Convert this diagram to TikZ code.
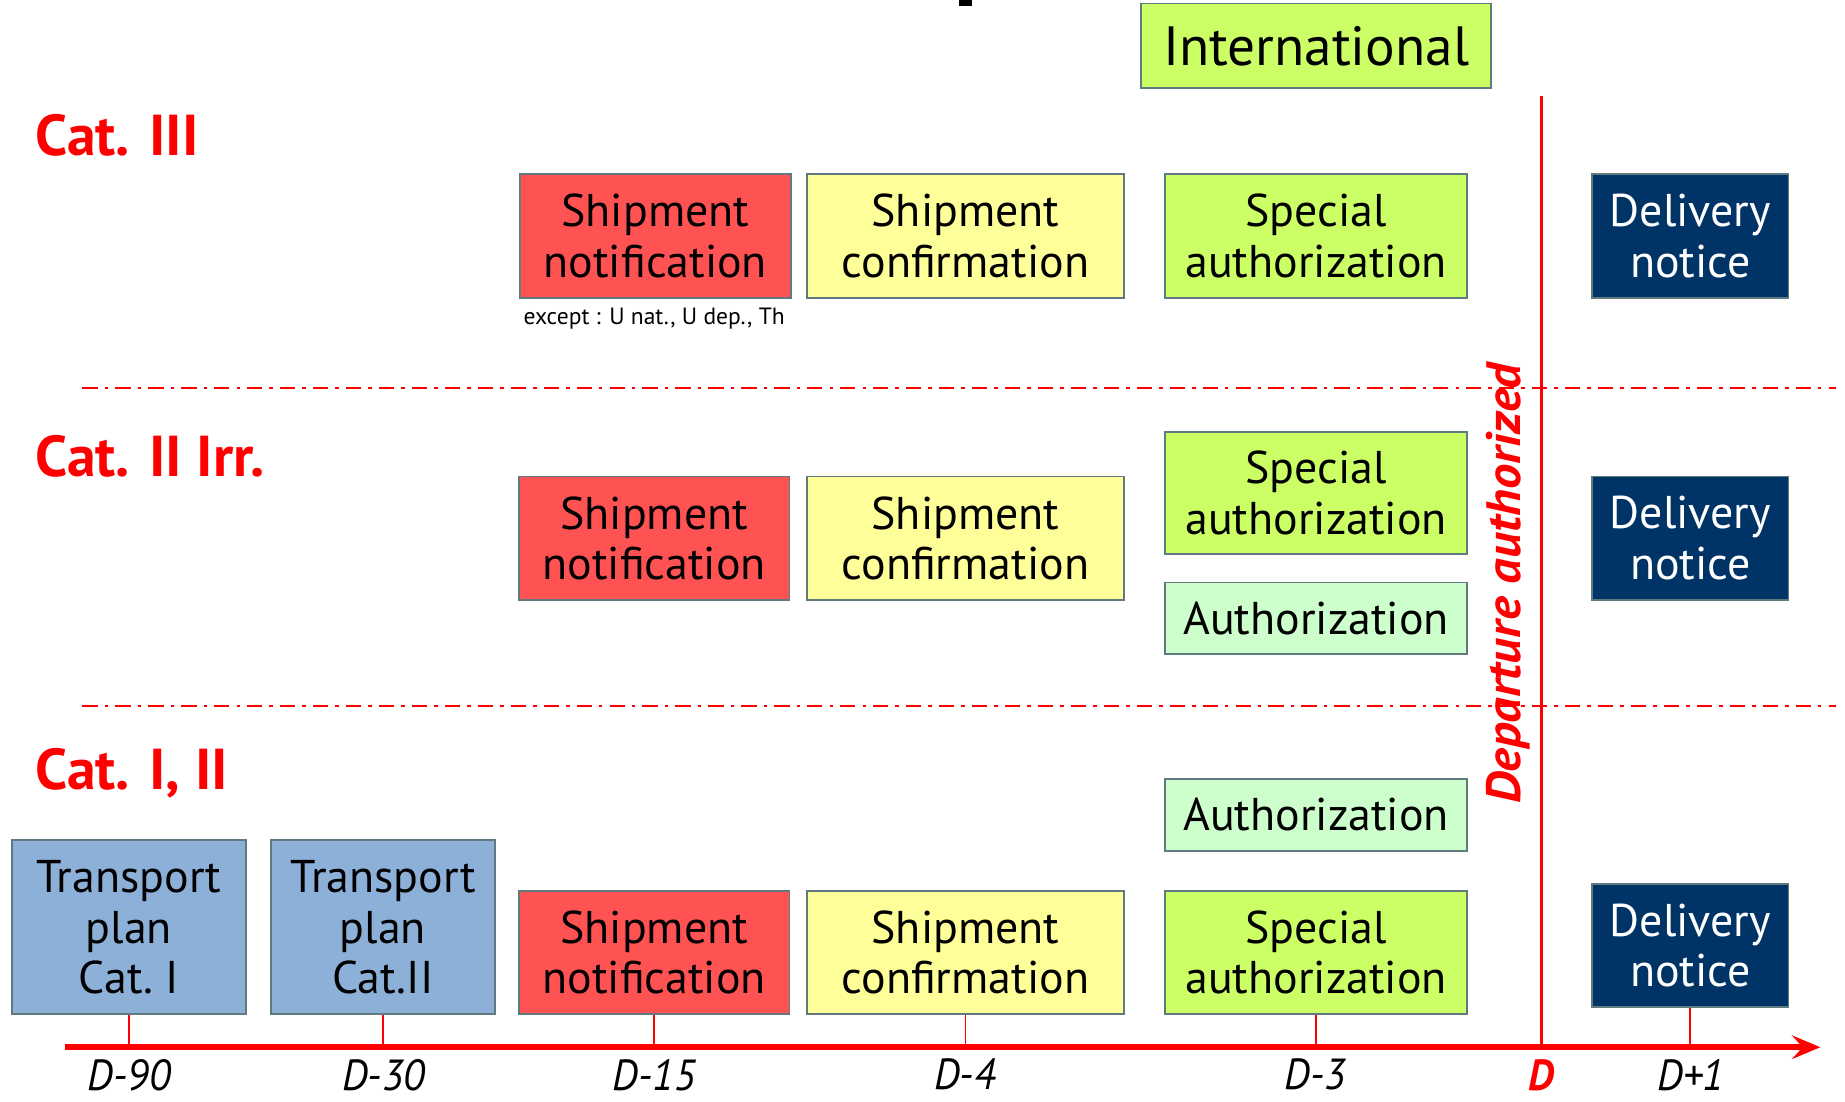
\documentclass[tikz,border=0pt]{standalone}
\usepackage{fontspec}
\setmainfont{PT Sans}
\newfontfamily\boxfnt{PT Sans}
\newfontfamily\axfnt{PT Sans}[FakeStretch=0.95]
\newfontfamily\depfnt{PT Sans}[FakeStretch=1.05]
\usetikzlibrary{arrows.meta}
\definecolor{bordc}{RGB}{96,122,128}
\definecolor{cred}{RGB}{255,82,82}
\definecolor{cyel}{RGB}{255,255,153}
\definecolor{cgrn}{RGB}{204,255,102}
\definecolor{clgr}{RGB}{204,255,204}
\definecolor{cblu}{RGB}{141,176,217}
\definecolor{cnavy}{RGB}{0,51,102}
\definecolor{lred}{RGB}{255,0,0}
\begin{document}
\begin{tikzpicture}[x=1pt,y=-1pt,
  box/.style={draw=bordc, line width=1.5pt, align=center, inner sep=0pt,
    font=\boxfnt\fontsize{39}{43}\selectfont},
  notif/.style={box, fill=cred, minimum width=230pt, minimum height=105pt},
  confirm/.style={box, fill=cyel, minimum width=269pt, minimum height=105pt},
  special/.style={box, fill=cgrn, minimum width=257pt, minimum height=105pt},
  authbox/.style={box, fill=clgr, minimum width=257pt, minimum height=61pt},
  deliv/.style={box, fill=cnavy, text=white, minimum width=167pt, minimum height=105pt},
  tplan/.style={box, fill=cblu, minimum height=148pt},
  catlabel/.style={anchor=west, text=lred, inner sep=0pt, font=\bfseries\fontsize{49}{52}\selectfont},
  sep/.style={lred, line width=2pt, dash pattern=on 13pt off 6pt on 3pt off 6pt},
  tick/.style={lred, line width=1.5pt},
  axlabel/.style={inner sep=0pt, font=\axfnt\itshape\fontsize{37}{40}\selectfont}
]
\useasboundingbox (0,0) rectangle (1568,936);

% title fragment
\fill[black] (815,0) rectangle (826,5);

% International
\node[box, fill=cgrn, minimum width=297pt, minimum height=72pt,
  font=\boxfnt\fontsize{47}{50}\selectfont] (intl) at (1118.5,39) {International};

% category labels
\node[catlabel] (c3) at (30,115) {Cat. III};
\node[catlabel] (c2) at (30,388) {Cat. II Irr.};
\node[catlabel] (c1) at (30,657) {Cat. I, II};

% separators
\coordinate (s1a) at (70,330); \coordinate (s1b) at (1560,330);
\coordinate (s2a) at (70,600); \coordinate (s2b) at (1560,600);
\draw[sep] (s1a) -- (s1b);
\draw[sep] (s2a) -- (s2b);

% Cat III row
\node[notif] (sn3) at (557,200.5) {Shipment\\notification};
\node[confirm] (sc3) at (820.5,200.5) {Shipment\\confirmation};
\node[special] (sa3) at (1118.5,200.5) {Special\\authorization};
\node[deliv] (dn3) at (1436.5,200.5) {Delivery\\notice};
\node[inner sep=0pt, font=\boxfnt\fontsize{20}{22}\selectfont] (exc) at (556,271) {except : U nat., U dep., Th};

% Cat II Irr row
\node[notif] (sn2) at (556,457.5) {Shipment\\notification};
\node[confirm] (sc2) at (820.5,457.5) {Shipment\\confirmation};
\node[special, minimum height=104pt] (sa2) at (1118.5,419) {Special\\authorization};
\node[authbox] (au2) at (1118.5,525.5) {Authorization};
\node[deliv] (dn2) at (1436.5,457.5) {Delivery\\notice};

% Cat I, II row
\node[tplan, minimum width=199pt] (tp1) at (109.5,788) {Transport\\plan\\Cat.~I};
\node[tplan, minimum width=191pt] (tp2) at (325.5,788) {Transport\\plan\\Cat.II};
\node[notif] (sn1) at (556,809.5) {Shipment\\notification};
\node[confirm] (sc1) at (820.5,809.5) {Shipment\\confirmation};
\node[special] (sa1) at (1118.5,809.5) {Special\\authorization};
\node[authbox] (au1) at (1118.5,692.5) {Authorization};
\node[deliv] (dn1) at (1436.5,803.5) {Delivery\\notice};

% departure line
\coordinate (dtop) at (1310,82);
\coordinate (dbot) at (1310,890);
\draw[lred, line width=3pt] (dtop) -- (dbot);
\node[rotate=90, text=lred, inner sep=0pt, font=\depfnt\bfseries\itshape\fontsize{41}{44}\selectfont] (dep) at (1282,496) {Departure authorized};

% axis
\coordinate (ax0) at (55,890);
\coordinate (ax1) at (1547,890);
\draw[lred, line width=5pt, -{Stealth[length=24pt,width=20pt,inset=9pt]}] (ax0) -- (ax1);

% ticks
\foreach \b in {tp1,tp2,sn1,sc1,sa1,dn1}
  \draw[tick] (\b.south) -- (\b.south |- ax0);

% axis labels
\node[axlabel] (l90) at (110,914) {D-90};
\node[axlabel] (l30) at (326,914) {D-30};
\node[axlabel] (l15) at (556,914) {D-15};
\node[axlabel] (l4) at (820,913) {D-4};
\node[axlabel] (l3) at (1118,913) {D-3};
\node[axlabel, text=lred, font=\axfnt\bfseries\itshape\fontsize{37}{40}\selectfont] (ld) at (1310,914) {D};
\node[axlabel] (lp1) at (1437,914) {D+1};
\end{tikzpicture}
\end{document}
